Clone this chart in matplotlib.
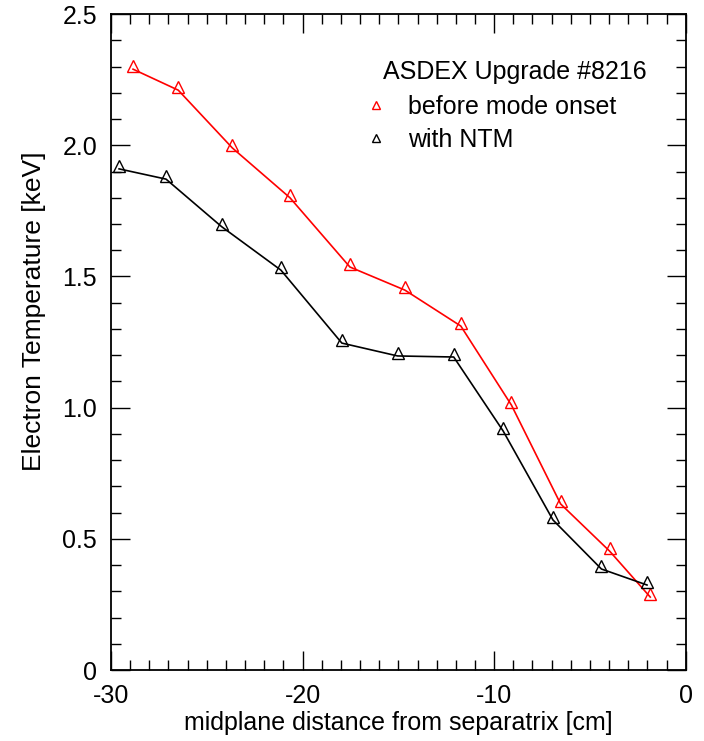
import numpy as np
import matplotlib.pyplot as plt
from matplotlib.lines import Line2D
from matplotlib.ticker import MultipleLocator
import matplotlib.transforms as mtransforms

plt.rcParams['font.family'] = ['Liberation Sans', 'DejaVu Sans']

# before mode onset (red)
x_before = [-28.85, -26.49, -23.67, -20.66, -17.53, -14.66, -11.74, -9.10, -6.53, -3.97, -1.85]
te_before = [2.29, 2.21, 1.99, 1.80, 1.536, 1.448, 1.311, 1.01, 0.633, 0.453, 0.278]

# with NTM (black)
x_ntm = [-29.58, -27.13, -24.23, -21.13, -17.95, -15.04, -12.11, -9.53, -6.93, -4.40, -2.02]
te_ntm = [1.91, 1.871, 1.69, 1.524, 1.246, 1.197, 1.193, 0.911, 0.572, 0.385, 0.324]

fig = plt.figure(figsize=(7.04, 7.41), dpi=100)
ax = fig.add_axes([0.1577, 0.0958, 0.974 - 0.1577, 0.981 - 0.0958])

# markers sit a little above the line vertices in the original
shift = mtransforms.offset_copy(ax.transData, fig=fig, x=0, y=3, units='dots')

ax.plot(x_before, te_before, color='red', lw=1.2)
ax.plot(x_before, te_before, ls='none', marker='^', ms=9, mfc='none',
        mec='red', mew=1.0, transform=shift)
ax.plot(x_ntm, te_ntm, color='black', lw=1.2)
ax.plot(x_ntm, te_ntm, ls='none', marker='^', ms=9, mfc='none',
        mec='black', mew=1.0, transform=shift)

ax.set_xlim(-30, 0)
ax.set_ylim(0, 2.5)
ax.xaxis.set_minor_locator(MultipleLocator(1))
ax.yaxis.set_minor_locator(MultipleLocator(0.1))
ax.set_yticks([0, 0.5, 1.0, 1.5, 2.0, 2.5])
ax.set_yticklabels(['0', '0.5', '1.0', '1.5', '2.0', '2.5'])
ax.set_xticks([-30, -20, -10, 0])
ax.set_xticklabels(['-30', '-20', '-10', '0'])

ax.tick_params(which='both', direction='in', top=True, right=True,
               labelsize=18, width=1.0, colors='black')
ax.tick_params(which='major', length=14, pad=10)
ax.tick_params(which='minor', length=7)
for s in ax.spines.values():
    s.set_linewidth(1.3)

ax.set_xlabel('midplane distance from separatrix [cm]', fontsize=18, labelpad=2)
ax.set_ylabel('Electron Temperature [keV]', fontsize=19, labelpad=12)
ax.yaxis.label.set_y(0.547)

ax.text(0.473, 0.912, 'ASDEX Upgrade #8216', transform=ax.transAxes,
        fontsize=18, ha='left', va='center')

handles = [
    Line2D([], [], ls='none', marker='^', ms=6, mfc='none', mec='red', mew=1.0),
    Line2D([], [], ls='none', marker='^', ms=6, mfc='none', mec='black', mew=1.0),
]
ax.legend(handles, ['before mode onset', 'with NTM'], fontsize=18,
          frameon=False, loc='upper left', bbox_to_anchor=(0.439, 0.877),
          handlelength=1.0, handletextpad=0.8, labelspacing=0.37,
          borderpad=0, borderaxespad=0)

fig.savefig('out.png', dpi=100)
